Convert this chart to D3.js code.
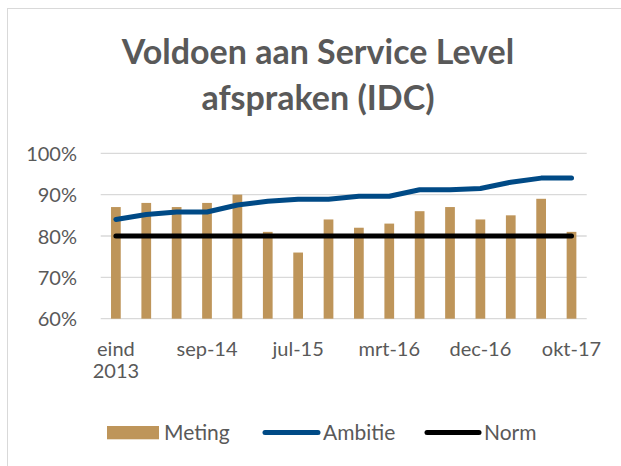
<!DOCTYPE html>
<html>
<head>
<meta charset="utf-8">
<script src="https://cdnjs.cloudflare.com/ajax/libs/d3/7.8.5/d3.min.js"></script>
<style>
  body { margin: 0; background: #fff; }
  text { font-family: Lato, "Open Sans", sans-serif; fill: #595959; }
</style>
</head>
<body>
<div id="chart"></div>
<script>
// data (hidden month labels are guesses)
var categories = ["eind 2013", "mrt-14", "jun-14", "sep-14", "dec-14", "mrt-15", "jul-15", "sep-15",
                  "dec-15", "mrt-16", "jun-16", "sep-16", "dec-16", "mrt-17", "jul-17", "okt-17"];
var meting  = [87, 88, 87, 88, 90, 81, 76, 84, 82, 83, 86, 87, 84, 85, 89, 81];
var ambitie = [84, 85.2, 85.8, 85.8, 87.5, 88.4, 88.9, 88.9, 89.6, 89.6, 91.2, 91.2, 91.5, 93, 94, 94];
var norm    = [80, 80, 80, 80, 80, 80, 80, 80, 80, 80, 80, 80, 80, 80, 80, 80];
var shownTicks = ["eind 2013", "sep-14", "jul-15", "mrt-16", "dec-16", "okt-17"];
var yTicks = [60, 70, 80, 90, 100];

var width = 621, height = 466;

var svg = d3.select("#chart").append("svg")
  .attr("width", width)
  .attr("height", height);

// chart area border
svg.append("rect")
  .attr("x", 7.5).attr("y", 8.5)
  .attr("width", 700).attr("height", 500)
  .attr("fill", "none")
  .attr("stroke", "#d9d9d9");

// title
var title = svg.append("text")
  .attr("text-anchor", "middle")
  .style("font-size", "34px")
  .style("font-weight", "bold");
title.append("tspan").attr("x", 318).attr("y", 64).text("Voldoen aan Service Level");
title.append("tspan").attr("x", 318).attr("y", 110).text("afspraken (IDC)");

var x = d3.scaleBand()
  .domain(categories)
  .range([100.7, 586.7]);

var y = d3.scaleLinear()
  .domain([60, 100])
  .range([318.7, 153.3]);

// gridlines
svg.append("g")
  .selectAll("line")
  .data(yTicks)
  .enter()
  .append("line")
    .attr("x1", x.range()[0])
    .attr("x2", x.range()[1])
    .attr("y1", d => y(d))
    .attr("y2", d => y(d))
    .attr("stroke", "#d9d9d9")
    .attr("stroke-width", 1.3);

// y axis labels
var yAxis = svg.append("g")
  .attr("transform", "translate(" + 92 + ",0)")
  .call(d3.axisLeft(y).tickValues(yTicks).tickSize(0).tickPadding(0).tickFormat(d => d + "%"));
yAxis.select(".domain").remove();
yAxis.selectAll("text")
  .style("font-size", "20px")
  .attr("fill", "#595959")
  .attr("x", -15)
  .attr("dy", "0.36em");

// bars
var barW = x.bandwidth() * 0.32;
svg.append("g")
  .selectAll("rect")
  .data(meting)
  .enter()
  .append("rect")
    .attr("x", (d, i) => x(categories[i]) + x.bandwidth() / 2 - barW / 2)
    .attr("y", d => y(d))
    .attr("width", barW)
    .attr("height", d => y(60) - y(d))
    .attr("fill", "#be955a");

var line = d3.line()
  .x((d, i) => x(categories[i]) + x.bandwidth() / 2)
  .y(d => y(d));

svg.append("path")
  .datum(norm)
  .attr("d", line)
  .attr("fill", "none")
  .attr("stroke", "#000")
  .attr("stroke-width", 5)
  .attr("stroke-linecap", "round");

svg.append("path")
  .datum(ambitie)
  .attr("d", line)
  .attr("fill", "none")
  .attr("stroke", "#004a86")
  .attr("stroke-width", 5)
  .attr("stroke-linecap", "round")
  .attr("stroke-linejoin", "round");

// x axis labels
var xAxis = svg.append("g")
  .attr("transform", "translate(0," + 318.7 + ")")
  .call(d3.axisBottom(x).tickValues(shownTicks).tickSize(0).tickPadding(0));
xAxis.select(".domain").remove();
xAxis.selectAll("text")
  .style("font-size", "20px")
  .attr("fill", "#595959")
  .attr("y", 37)
  .attr("dy", 0)
  .each(function (d) {
    var t = d3.select(this);
    var words = d.split(" ");
    t.text(null);
    words.forEach(function (w, k) {
      t.append("tspan").attr("x", 0).attr("dy", k === 0 ? 0 : 22.7).text(w);
    });
  });

// legend
var legend = svg.append("g");
legend.append("rect")
  .attr("x", 107).attr("y", 426)
  .attr("width", 52).attr("height", 13.3)
  .attr("fill", "#be955a");
legend.append("text").attr("x", 164).attr("y", 440).style("font-size", "21px").text("Meting");

legend.append("line")
  .attr("x1", 265).attr("x2", 318).attr("y1", 432.5).attr("y2", 432.5)
  .attr("stroke", "#004a86").attr("stroke-width", 5).attr("stroke-linecap", "round");
legend.append("text").attr("x", 323).attr("y", 440).style("font-size", "21px").text("Ambitie");

legend.append("line")
  .attr("x1", 427).attr("x2", 479).attr("y1", 432.5).attr("y2", 432.5)
  .attr("stroke", "#000").attr("stroke-width", 5).attr("stroke-linecap", "round");
legend.append("text").attr("x", 484).attr("y", 440).style("font-size", "21px").text("Norm");
</script>
</body>
</html>
